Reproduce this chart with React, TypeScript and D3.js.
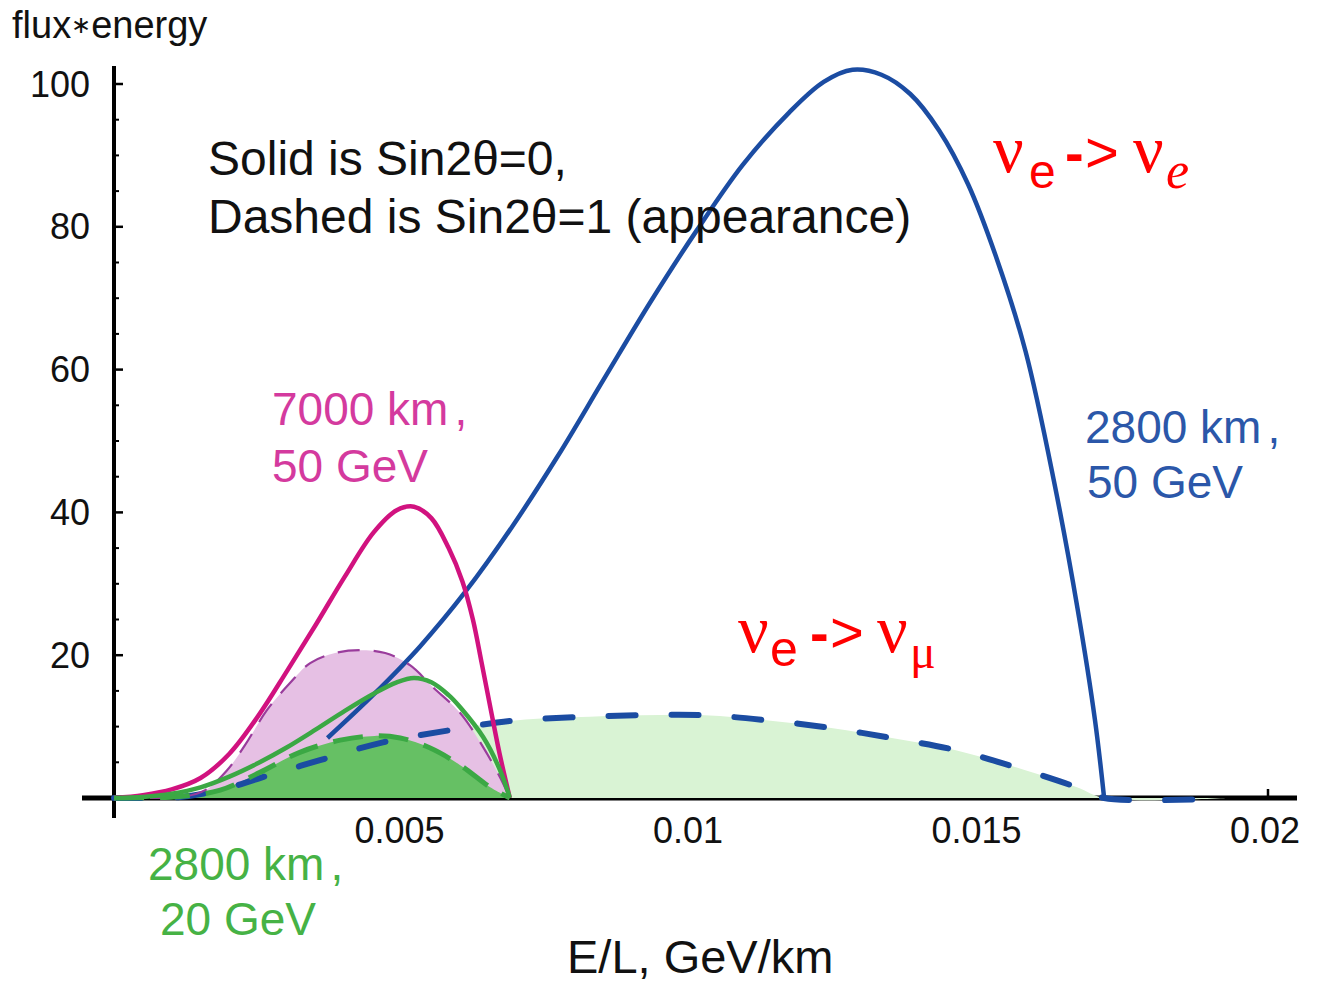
import React from "react";
import * as d3 from "d3";

const W = 1322;
const H = 982;

// E/L in GeV/km, flux*energy in arbitrary units

// 2800 km, 50 GeV, no oscillation (solid blue)
const blue50EL = [0.0037, 0.0045, 0.0053, 0.0061, 0.0069, 0.0077, 0.0085, 0.0093, 0.0101, 0.0109, 0.0117, 0.0123, 0.0128, 0.0133, 0.0138, 0.0143, 0.0148, 0.0153, 0.0158, 0.0163, 0.0167, 0.017, 0.01716];
const blue50Flux = [8.4, 14.5, 21.2, 29.0, 38.0, 48.0, 58.8, 69.5, 79.5, 88.7, 96.0, 100.3, 102.0, 101.3, 98.6, 93.5, 86.0, 75.5, 62.5, 44.0, 26.5, 11.0, 0];

// 2800 km, 50 GeV, appearance (dashed blue)
const blue50AppEL = [0, 0.0006, 0.00114, 0.00184, 0.00253, 0.00357, 0.00466, 0.00575, 0.00686, 0.00795, 0.00913, 0.01024, 0.0113, 0.01243, 0.01348, 0.01459, 0.01563, 0.01669, 0.01716, 0.0193];
const blue50AppFlux = [0, 0.02, 0.14, 1.1, 2.8, 5.3, 7.8, 9.4, 10.8, 11.3, 11.6, 11.6, 10.9, 9.8, 8.4, 6.7, 4.3, 1.5, 0, 0];

// 7000 km, 50 GeV, no oscillation (solid magenta)
const mag50EL = [0, 0.0005, 0.001, 0.0015, 0.002, 0.0025, 0.003, 0.0035, 0.004, 0.0045, 0.0049, 0.0052, 0.0055, 0.0058, 0.00604, 0.00622, 0.00637, 0.00652, 0.00668, 0.00686];
const mag50Flux = [0, 0.4, 1.2, 2.8, 6.2, 11.5, 17.8, 24.3, 31.0, 37.2, 40.3, 40.8, 39.2, 35.0, 30.3, 25.0, 19.0, 12.8, 6.3, 0];

// 7000 km, 50 GeV, appearance (dashed magenta)
const mag50AppEL = [0, 0.0006, 0.00114, 0.00158, 0.00196, 0.00227, 0.00265, 0.00305, 0.0034, 0.00383, 0.00426, 0.0047, 0.00513, 0.00553, 0.006, 0.0064, 0.00669, 0.00686];
const mag50AppFlux = [0, 0.02, 0.1, 1.1, 3.9, 7.4, 12.3, 16.1, 18.9, 20.3, 20.7, 20.3, 18.6, 15.5, 11.9, 7.1, 2.9, 0];

// 2800 km, 20 GeV, no oscillation (solid green)
const green20EL = [0, 0.0005, 0.001, 0.0015, 0.002, 0.0025, 0.003, 0.0035, 0.004, 0.0045, 0.0049, 0.0052, 0.0055, 0.0058, 0.006, 0.0064, 0.00669, 0.00686];
const green20Flux = [0, 0.15, 0.6, 1.5, 3.0, 4.9, 7.1, 9.6, 12.2, 14.6, 16.2, 16.8, 16.2, 14.4, 12.7, 8.5, 3.9, 0];

// 2800 km, 20 GeV, appearance (dashed green)
const green20AppEL = [0, 0.0006, 0.00114, 0.00184, 0.00253, 0.00322, 0.00392, 0.00452, 0.00496, 0.00548, 0.006, 0.00652, 0.00686];
const green20AppFlux = [0, 0.03, 0.2, 1.1, 3.6, 6.4, 8.1, 8.7, 8.4, 7.0, 4.6, 1.5, 0];

const xTickValues = [0.005, 0.01, 0.015, 0.02];
const xTickLabels = ["0.005", "0.01", "0.015", "0.02"];
const yTickValues = [20, 40, 60, 80, 100];
const yTickLabels = ["20", "40", "60", "80", "100"];

const SANS = "'Liberation Sans', Arial, Helvetica, sans-serif";
const SERIF = "'Liberation Serif', 'Times New Roman', serif";

const C = {
  blue: "#1b4ca2",
  magenta: "#d1127f",
  magentaDash: "#9a3c9c",
  green: "#3ba844",
  pinkFill: "#e6c0e4",
  darkGreenFill: "#66c064",
  lightGreenFill: "#d9f3d4",
  textMagenta: "#d43a9e",
  textBlue: "#2b57a9",
  textGreen: "#46b245",
  red: "#ff0000",
};

type P = [number, number];
const zip = (xs: number[], ys: number[]): P[] => xs.map((v, i) => [v, ys[i]] as P);

export default function App() {
  const x = d3.scaleLinear().domain([0, 0.02]).range([114, 1268]);
  const y = d3.scaleLinear().domain([0, 100]).range([798, 84]);

  const curve = d3.curveCatmullRom.alpha(0.5);
  const line = d3
    .line<P>()
    .x((d) => x(d[0]))
    .y((d) => y(d[1]))
    .curve(curve);
  const area = d3
    .area<P>()
    .x((d) => x(d[0]))
    .y0(y(0))
    .y1((d) => y(d[1]))
    .curve(curve);

  const blue50 = zip(blue50EL, blue50Flux);
  const blue50App = zip(blue50AppEL, blue50AppFlux);
  const mag50 = zip(mag50EL, mag50Flux);
  const mag50App = zip(mag50AppEL, mag50AppFlux);
  const green20 = zip(green20EL, green20Flux);
  const green20App = zip(green20AppEL, green20AppFlux);

  const xMin = x.invert(82);
  const xMax = x.invert(1297);
  const yMin = y.invert(818);
  const yMax = y.invert(66);

  const yMinor = d3.range(5, 101, 5).filter((v) => v % 20 !== 0);

  return (
    <svg
      width={W}
      height={H}
      viewBox={`0 0 ${W} ${H}`}
      style={{ position: "absolute", left: 0, top: 0, display: "block", background: "#fff" }}
    >
      {/* axes */}
      <g stroke="#000" fill="none">
        <line x1={x(xMin)} x2={x(xMax)} y1={y(0)} y2={y(0)} strokeWidth={5} />
        <line x1={x(0)} x2={x(0)} y1={y(yMin)} y2={y(yMax)} strokeWidth={4} />
        {yTickValues.map((v) => (
          <line key={`ym${v}`} x1={x(0)} x2={x(0) + 9} y1={y(v)} y2={y(v)} strokeWidth={2.5} />
        ))}
        {yMinor.map((v) => (
          <line key={`yn${v}`} x1={x(0)} x2={x(0) + 5} y1={y(v)} y2={y(v)} strokeWidth={2} />
        ))}
        {xTickValues.map((v) => (
          <line key={`xm${v}`} x1={x(v)} x2={x(v)} y1={y(0)} y2={y(0) - 9} strokeWidth={2.5} />
        ))}
      </g>

      {/* filled appearance regions */}
      <path d={area(blue50App) ?? ""} fill={C.lightGreenFill} />
      <path d={area(mag50App) ?? ""} fill={C.pinkFill} />
      <path d={area(green20App) ?? ""} fill={C.darkGreenFill} />

      {/* unoscillated 2800 km / 50 GeV curve */}
      <path d={line(blue50) ?? ""} fill="none" stroke={C.blue} strokeWidth={4.5} />

      {/* appearance curves (dashed) */}
      <path d={line(blue50App) ?? ""} fill="none" stroke={C.blue} strokeWidth={6} strokeDasharray="27 36" strokeLinecap="round" />
      <path d={line(mag50App) ?? ""} fill="none" stroke={C.magentaDash} strokeWidth={2.2} strokeDasharray="22 14" />
      <path d={line(green20App) ?? ""} fill="none" stroke={C.green} strokeWidth={5} strokeDasharray="30 16" />

      {/* remaining unoscillated curves (solid) */}
      <path d={line(mag50) ?? ""} fill="none" stroke={C.magenta} strokeWidth={4.5} />
      <path d={line(green20) ?? ""} fill="none" stroke={C.green} strokeWidth={4.5} />

      {/* tick labels */}
      <g fontFamily={SANS} fontSize={36} fill="#111">
        {yTickValues.map((v, i) => (
          <text key={`yl${v}`} x={90} y={y(v)} textAnchor="end" dominantBaseline="central">
            {yTickLabels[i]}
          </text>
        ))}
        {xTickValues.map((v, i) => (
          <text key={`xl${v}`} x={x(v) - 3} y={843} textAnchor="middle">
            {xTickLabels[i]}
          </text>
        ))}
      </g>

      {/* axis titles */}
      <text x={12} y={38} fontFamily={SANS} fontSize={38} fill="#111">
        flux<tspan fontSize={24} dy={-5}>∗</tspan><tspan dy={5}>energy</tspan>
      </text>
      <text x={567} y={973} fontFamily={SANS} fontSize={47} fill="#111">E/L, GeV/km</text>

      {/* legend note */}
      <g fontFamily={SANS} fontSize={48} fill="#111">
        <text x={208} y={175}>Solid is Sin2θ=0,</text>
        <text x={208} y={233}>Dashed is Sin2θ=1 (appearance)</text>
      </g>

      {/* curve labels */}
      <g fontFamily={SANS} fontSize={46}>
        <text x={272} y={425} fill={C.textMagenta}>7000 km<tspan dx={6}>,</tspan></text>
        <text x={272} y={482} fill={C.textMagenta}>50 GeV</text>
        <text x={1085} y={443} fill={C.textBlue}>2800 km<tspan dx={6}>,</tspan></text>
        <text x={1087} y={498} fill={C.textBlue}>50 GeV</text>
        <text x={148} y={880} fill={C.textGreen}>2800 km<tspan dx={6}>,</tspan></text>
        <text x={160} y={935} fill={C.textGreen}>20 GeV</text>
      </g>

      {/* channel labels */}
      <g fill={C.red}>
        <text x={993} y={172} fontFamily={SERIF} fontSize={68}>ν</text>
        <text x={1029} y={188} fontFamily={SANS} fontSize={48}>e</text>
        <text x={1065} y={172} fontFamily={SANS} fontSize={56} fontWeight="bold">-</text>
        <text x={1085} y={172} fontFamily={SANS} fontSize={58}>&gt;</text>
        <text x={1133} y={172} fontFamily={SERIF} fontSize={68}>ν</text>
        <text x={1166} y={188} fontFamily={SERIF} fontSize={52} fontStyle="italic">e</text>

        <text x={738} y={652} fontFamily={SERIF} fontSize={68}>ν</text>
        <text x={770} y={666} fontFamily={SANS} fontSize={50}>e</text>
        <text x={810} y={652} fontFamily={SANS} fontSize={56} fontWeight="bold">-</text>
        <text x={830} y={652} fontFamily={SANS} fontSize={58}>&gt;</text>
        <text x={877} y={652} fontFamily={SERIF} fontSize={68}>ν</text>
        <text x={910} y={668} fontFamily={SERIF} fontSize={48}>μ</text>
      </g>
    </svg>
  );
}
